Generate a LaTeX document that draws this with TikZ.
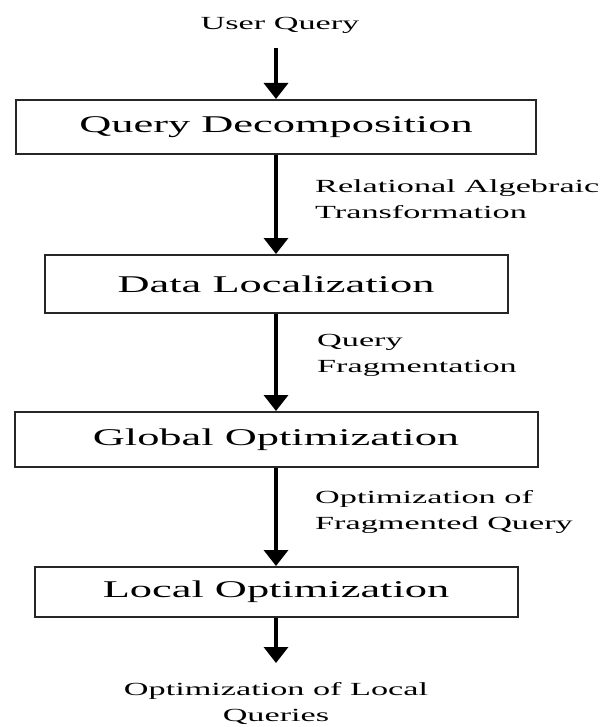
\documentclass[tikz,border=0pt]{standalone}
\usepackage{fontspec}
\setmainfont{Liberation Serif}
\usepackage{graphicx}
\usepackage{tikz}
\usetikzlibrary{arrows.meta}
\usetikzlibrary{calc,positioning}
\def\xStretch{1.85}
\def\midX{276}
\def\boxFont{\fontsize{24}{28}\selectfont}
\def\labFont{\fontsize{18.5}{26}\selectfont}
\def\lineThickness{(2pt)}
\def\arrowThickness{(3.5pt)}
\newcommand{\wide}[1]{\scalebox{\xStretch}[1]{#1}}
\tikzset{stage/.style={draw=black!85,line width=\lineThickness,inner sep=0,minimum height=54pt,font=\boxFont}}
\tikzset{lab/.style={inner sep=0,align=left,anchor=north west,font=\labFont}}
\tikzset{flow/.style={black,line width=\arrowThickness,-{Triangle[width=24pt,length=16pt]}}}

\begin{document}
\begin{tikzpicture}[x=1pt,y=-1pt]\useasboundingbox (0,0) rectangle (611,727);
\node[inner sep=0,font=\labFont,anchor=base] (uq) at (280,30) {\wide{User Query}};
\node[stage,minimum width=520pt] (b1) at (\midX,127) {\wide{Query Decomposition}};
\node[stage,minimum width=463pt,minimum height=58pt] (b2) at (\midX,284) {\wide{Data Localization}};
\node[stage,minimum width=523pt,minimum height=55pt] (b3) at (\midX,439.5) {\wide{Global Optimization}};
\node[stage,minimum width=483pt,minimum height=50pt] (b4) at (\midX,592) {\wide{Local Optimization}};
\node[lab] (t1) at (315,179) {\wide{Relational Algebraic}\\\wide{Transformation}};
\node[lab] (t2) at (317,334.5) {\wide{Query}\\\wide{Fragmentation}};
\node[lab] (t3) at (315,490) {\wide{Optimization of}\\\wide{Fragmented Query}};
\node[lab,align=center,anchor=north] (out) at (\midX,682) {\wide{Optimization of Local}\\\wide{Queries}};
\draw[flow,shorten <=14pt] (uq.south -| b1) -- (b1.north);
\foreach\a/\b in {b1/b2,b2/b3,b3/b4}{\draw[flow] (\a)--(\b);};
\draw[flow,shorten >=19pt] (b4.south) -- (out.north);
% \draw[red] (0,0) rectangle (611,727);
\end{tikzpicture}
\end{document}
